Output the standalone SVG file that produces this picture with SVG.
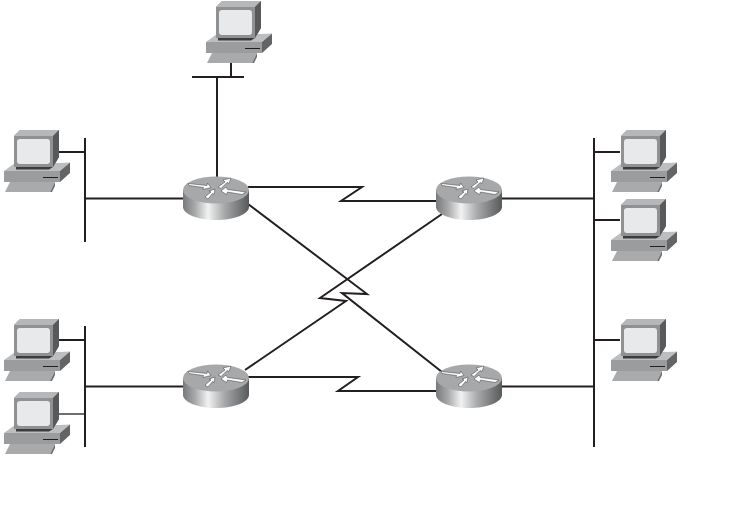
<svg xmlns="http://www.w3.org/2000/svg" width="754" height="510" viewBox="0 0 754 510">
<style>
.l{fill:none;stroke:#231f20;stroke-width:2;stroke-linejoin:miter}
.t{stroke-width:1.3}
</style>
<defs>
<linearGradient id="cyl" x1="0" x2="1" y1="0" y2="0">
<stop offset="0" stop-color="#77797b"/><stop offset=".18" stop-color="#a6a8aa"/><stop offset=".38" stop-color="#f2f2f2"/><stop offset=".62" stop-color="#a8aaac"/><stop offset="1" stop-color="#58595b"/>
</linearGradient>
<g id="pc">
<path d="M0 42 11 34H55L66 33.500 56 42Z" fill="#bcbec0"/>
<path d="M0 42H56V53H0Z" fill="#9a9c9e"/>
<path d="M56 42 66 33.500V44L56 53Z" fill="#636466"/>
<path d="M39 48.500H54" stroke="#231f20" stroke-width="1"/>
<path d="M1 63 6 53H51L46 63Z" fill="#a8aaac"/>
<path d="M46 63 51 53V57L48 63Z" fill="#6d6f71"/>
<path d="M10 7 16 1H55V28L49 38H10Z" fill="#8f9193"/>
<path d="M10 7 16 1H55L49 7Z" fill="#b5b7b9"/>
<path d="M49 7 55 1V28L49 38Z" fill="#58595b"/>
<rect x="13" y="10" width="33" height="25" rx="3" fill="#e8e9ea"/>
<path d="M12 38H49L45 40.500H12Z" fill="#3c3c3e"/>
</g>
<g id="router">
<path d="M-33-5V12C-33 19-18 25 0 25S33 19 33 12V-5Z" fill="url(#cyl)"/>
<ellipse cx="0" cy="-5" rx="33" ry="13.500" fill="#a6a8aa"/>
<g fill="#fff" stroke="#3a3a3c" stroke-width=".5">
<path d="M-28-11.500-9-9.500-8.500-12-5-7.500-13-5.500-12.500-7.500-27-9.500Z"/>
<path d="M2-8 9-13 7-15 15-17 13-11.500 11-12.500 5-6.500Z"/>
<path d="M5-4 10-8 11.500-5.500 30-3 26-.5 11.500-3 10.500-.5Z"/>
<path d="M-11 2-5-3-7-4-1-6-2-.5-3.500-1.500-8 4Z"/>
</g>
</g>
</defs>
<g id="connectors">
<path class="l" d="M231 62V77M192 77H244M217 77V180"/>
<path class="l" d="M85 138V242M59 152H85M85 198.500H184"/>
<path class="l" d="M85 326V447M59 340H85M85 386.500H184"/>
<path class="l t" d="M59 414H85"/>
<path class="l" d="M594 138V447M594 152H620M594 220H620M594 340H620M501 198.500H594M501 386.500H594"/>
<path class="l" d="M248 187H362L341 201H437"/>
<path class="l" d="M248 377H358L338 391H437"/>
<path class="l" d="M248 204 367 294 342 293 442 372"/>
<path class="l" d="M442 214 320 298 346 301 245 370"/>
</g>
<use id="pc-top" href="#pc" x="206" y="0"/>
<use id="pc-left-1" href="#pc" x="4" y="129"/>
<use id="pc-left-2" href="#pc" x="4" y="318"/>
<use id="pc-left-3" href="#pc" x="4" y="391"/>
<use id="pc-right-1" href="#pc" x="611" y="129"/>
<use id="pc-right-2" href="#pc" x="611" y="198"/>
<use id="pc-right-3" href="#pc" x="611" y="318"/>
<use id="router-a" href="#router" x="216" y="195"/>
<use id="router-b" href="#router" x="469" y="195"/>
<use id="router-c" href="#router" x="216" y="383"/>
<use id="router-d" href="#router" x="469" y="383"/>
</svg>
